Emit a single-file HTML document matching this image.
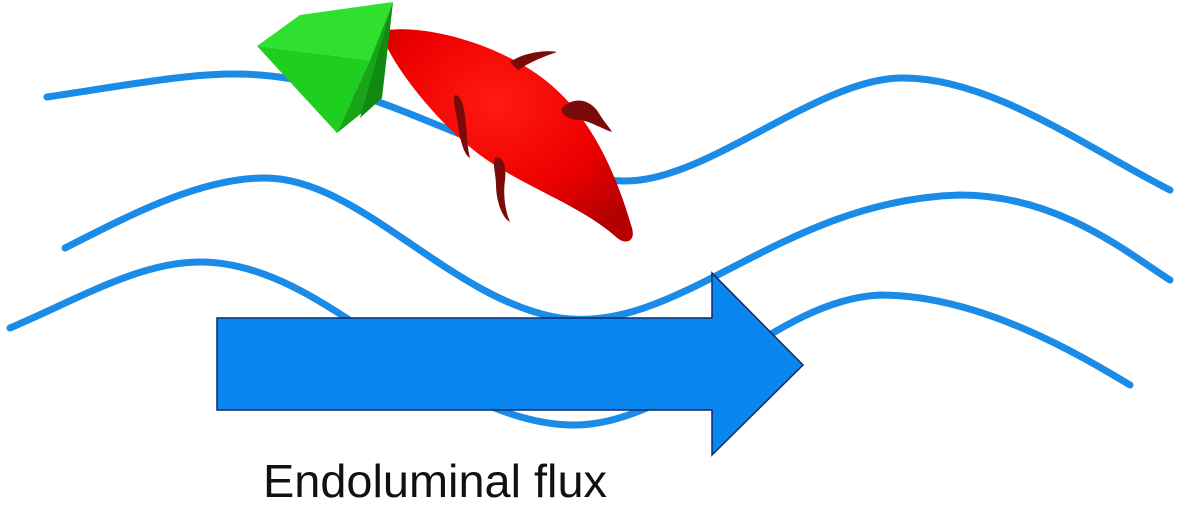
<!DOCTYPE html>
<html><head><meta charset="utf-8"><style>html,body{margin:0;padding:0;background:#fff;overflow:hidden}</style></head>
<body>
<svg width="1188" height="503" viewBox="0 0 1188 503" xmlns="http://www.w3.org/2000/svg">
<defs>
<radialGradient id="rg" cx="0.45" cy="0.35" r="0.7">
<stop offset="0" stop-color="#ff1a10"/><stop offset="0.6" stop-color="#ee0000"/><stop offset="1" stop-color="#b50000"/>
</radialGradient>
</defs>
<g fill="none" stroke="#1a8be6" stroke-width="7" stroke-linecap="round">
<path d="M47,97 C130,85 200,70 260,75 C350,82 420,120 500,150 C560,172 600,185 640,180 C720,170 820,80 900,78 C990,76 1090,150 1170,190"/>
<path d="M65,248 C130,215 200,178 265,178 C360,178 450,300 560,318 C680,335 780,200 960,195 C1060,195 1130,255 1170,280"/>
<path d="M10,328 C80,298 140,262 200,262 C330,262 430,420 570,425 C680,428 770,300 880,295 C980,295 1080,355 1130,385"/>
</g>
<polygon points="217,318 712,318 712,273 803,365 712,455 712,410 217,410" fill="#0a86ee" stroke="#0d2a6a" stroke-width="1.5"/>
<text x="263" y="497" font-family="'Liberation Sans',sans-serif" font-size="46" fill="#111" textLength="344" lengthAdjust="spacingAndGlyphs">Endoluminal flux</text>
<!-- red body: spindle -->
<path d="M388,30 C430,25 500,45 545,80 C590,115 615,170 632,228 C636,242 625,246 615,236 C580,205 520,185 480,155 C440,125 400,75 386,45 C382,36 383,31 388,30 Z" fill="url(#rg)"/>
<g fill="#7a0b0b">
<path d="M510,62 C525,52 545,50 557,52 C545,56 530,62 518,70 Z"/>
<path d="M562,108 C575,95 592,100 600,115 C605,123 610,128 612,132 C600,128 592,122 580,120 C570,120 560,115 562,108 Z"/>
<path d="M455,95 C462,95 465,110 466,125 C467,140 468,150 470,158 C464,155 460,140 458,125 C456,110 452,100 455,95 Z"/>
<path d="M495,158 C502,155 507,165 505,180 C503,195 505,210 510,222 C502,218 496,200 496,185 C496,175 492,162 495,158 Z"/>
</g>
<!-- green pyramid -->
<polygon points="257,46 300,15 393,2 370,60" fill="#2fe02f"/>
<polygon points="257,46 370,60 337,133" fill="#1fcf1f"/>
<polygon points="370,60 393,2 378,100 337,133" fill="#17a517"/>
<polygon points="393,2 382,98 360,118" fill="#118a11"/>
</svg>
</body></html>
